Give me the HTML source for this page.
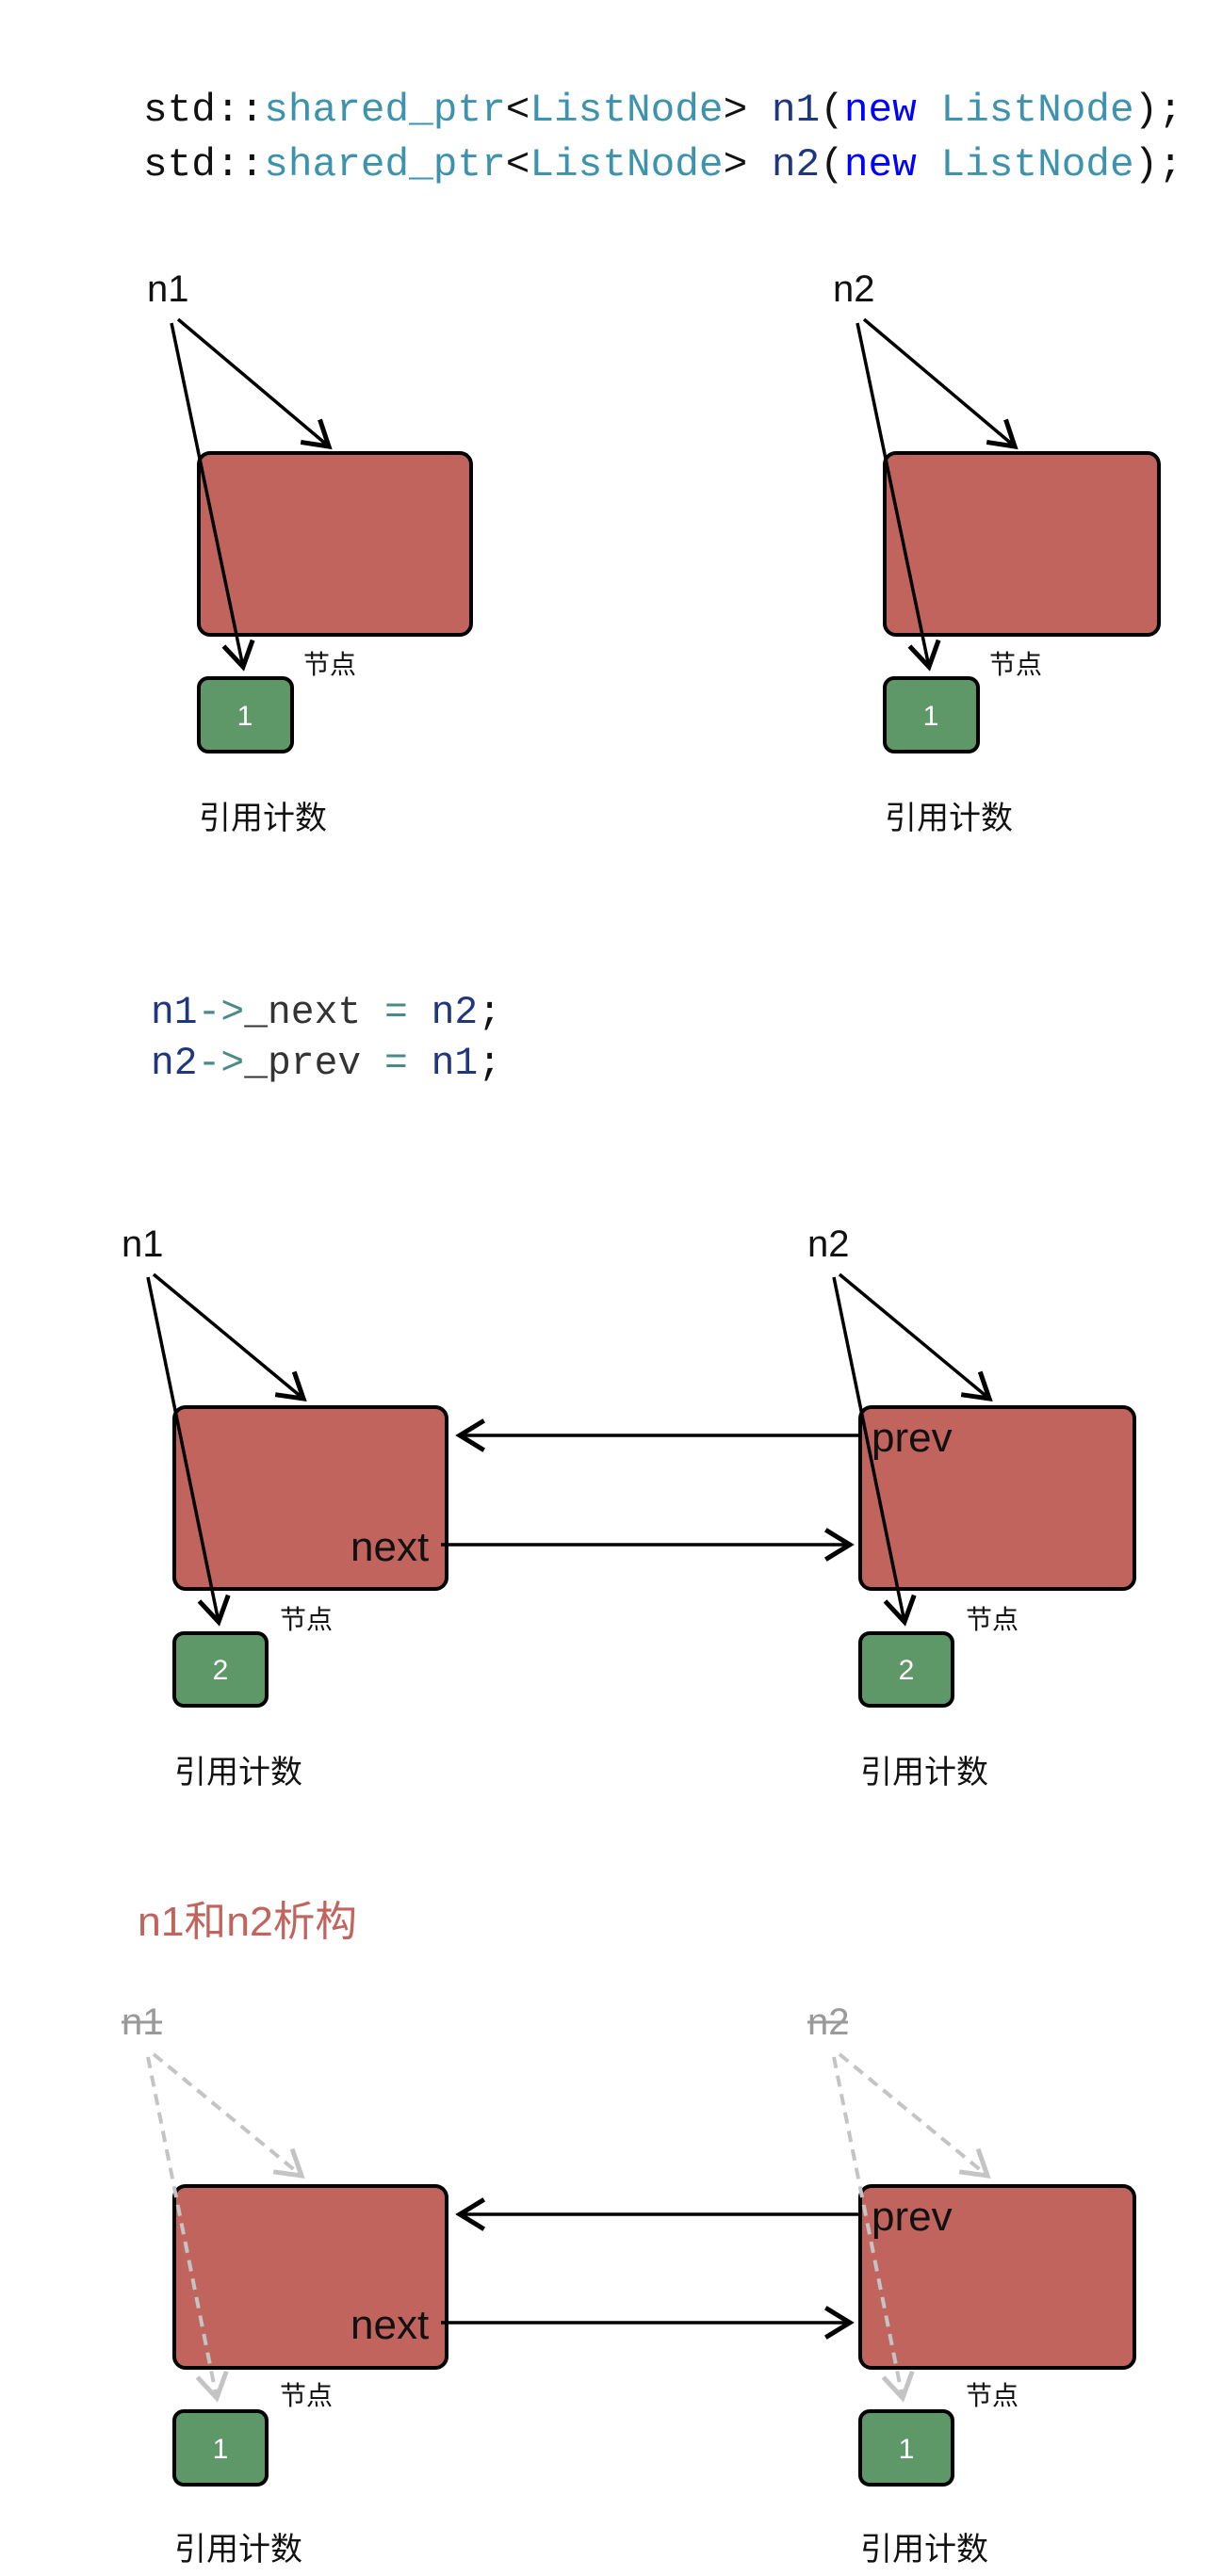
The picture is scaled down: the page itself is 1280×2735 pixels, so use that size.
<!DOCTYPE html>
<html><head><meta charset="utf-8"><style>
html,body{margin:0;padding:0;background:#fff;}
svg{display:block;}
.code{font-family:"Liberation Mono",monospace;font-size:42px;}
.lab{font-family:"Liberation Sans",sans-serif;font-size:40px;fill:#111;}
.cj{font-family:"Liberation Sans","Noto Sans CJK SC",sans-serif;fill:#111;}
.node{fill:#c1645e;stroke:#000;stroke-width:4;}
.cnt{fill:#5f9868;stroke:#000;stroke-width:4;}
.dig{font-family:"Liberation Sans",sans-serif;font-size:30px;fill:#fff;text-anchor:middle;}
.ar{stroke:#000;stroke-width:3.5;fill:none;}
.da{stroke:#c4c4c4;stroke-width:4;fill:none;stroke-dasharray:12 8;}
</style></head><body>
<svg width="1280" height="2735" viewBox="0 0 1280 2735" xmlns="http://www.w3.org/2000/svg">
<defs>
<marker id="ah" markerUnits="userSpaceOnUse" markerWidth="40" markerHeight="40" refX="0" refY="0" viewBox="-22 -14 26 28" orient="auto" overflow="visible">
<path d="M-18,-11 L0,0 L-18,11" fill="none" stroke="#000" stroke-width="3.5"/>
</marker>
<marker id="ahg" markerUnits="userSpaceOnUse" markerWidth="40" markerHeight="40" refX="0" refY="0" viewBox="-22 -14 26 28" orient="auto" overflow="visible">
<path d="M-18,-11 L0,0 L-18,11" fill="none" stroke="#c4c4c4" stroke-width="3.5"/>
</marker>
</defs>

<!-- Section 1 code -->
<text class="code" x="152" y="128" textLength="1103" lengthAdjust="spacingAndGlyphs"><tspan fill="#111">std::</tspan><tspan fill="#3d93ad">shared_ptr</tspan><tspan fill="#111">&lt;</tspan><tspan fill="#3d93ad">ListNode</tspan><tspan fill="#111">&gt; </tspan><tspan fill="#1f377f">n1</tspan><tspan fill="#111">(</tspan><tspan fill="#0000ff">new</tspan><tspan fill="#111"> </tspan><tspan fill="#3d93ad">ListNode</tspan><tspan fill="#111">);</tspan></text>
<text class="code" x="152" y="186" textLength="1103" lengthAdjust="spacingAndGlyphs"><tspan fill="#111">std::</tspan><tspan fill="#3d93ad">shared_ptr</tspan><tspan fill="#111">&lt;</tspan><tspan fill="#3d93ad">ListNode</tspan><tspan fill="#111">&gt; </tspan><tspan fill="#1f377f">n2</tspan><tspan fill="#111">(</tspan><tspan fill="#0000ff">new</tspan><tspan fill="#111"> </tspan><tspan fill="#3d93ad">ListNode</tspan><tspan fill="#111">);</tspan></text>

<!-- Section 1 diagram -->
<g>
<text class="lab" x="156" y="320">n1</text>
<rect class="node" x="211" y="481" width="289" height="193" rx="12"/>
<rect class="cnt" x="211" y="720" width="99" height="78" rx="10"/>
<text class="dig" x="260" y="770">1</text>
<text class="cj" x="322" y="715" font-size="28">节点</text>
<text class="cj" x="211" y="880" font-size="34">引用计数</text>
<line class="ar" x1="189" y1="339" x2="349" y2="474" marker-end="url(#ah)"/>
<line class="ar" x1="182" y1="343" x2="258" y2="708" marker-end="url(#ah)"/>
</g>
<g transform="translate(728,0)">
<text class="lab" x="156" y="320">n2</text>
<rect class="node" x="211" y="481" width="291" height="193" rx="12"/>
<rect class="cnt" x="211" y="720" width="99" height="78" rx="10"/>
<text class="dig" x="260" y="770">1</text>
<text class="cj" x="322" y="715" font-size="28">节点</text>
<text class="cj" x="211" y="880" font-size="34">引用计数</text>
<line class="ar" x1="189" y1="339" x2="349" y2="474" marker-end="url(#ah)"/>
<line class="ar" x1="182" y1="343" x2="258" y2="708" marker-end="url(#ah)"/>
</g>

<!-- Section 2 code -->
<text class="code" x="160" y="1086" textLength="372" lengthAdjust="spacingAndGlyphs"><tspan fill="#1f377f">n1</tspan><tspan fill="#4a8a8a">-&gt;</tspan><tspan fill="#333">_next</tspan><tspan fill="#4a8a8a"> = </tspan><tspan fill="#1f377f">n2</tspan><tspan fill="#111">;</tspan></text>
<text class="code" x="160" y="1140" textLength="372" lengthAdjust="spacingAndGlyphs"><tspan fill="#1f377f">n2</tspan><tspan fill="#4a8a8a">-&gt;</tspan><tspan fill="#333">_prev</tspan><tspan fill="#4a8a8a"> = </tspan><tspan fill="#1f377f">n1</tspan><tspan fill="#111">;</tspan></text>

<!-- Section 2 diagram -->
<g>
<text class="lab" x="129" y="1334">n1</text>
<rect class="node" x="185" y="1494" width="289" height="193" rx="12"/>
<rect class="cnt" x="185" y="1734" width="98" height="77" rx="10"/>
<text class="dig" x="234" y="1783">2</text>
<text class="cj" x="297" y="1729" font-size="28">节点</text>
<text class="cj" x="185" y="1893" font-size="34">引用计数</text>
<text class="lab" x="372" y="1657" font-size="44" style="font-size:44px">next</text>
<line class="ar" x1="163" y1="1353" x2="322" y2="1485" marker-end="url(#ah)"/>
<line class="ar" x1="157" y1="1356" x2="232" y2="1722" marker-end="url(#ah)"/>
</g>
<g transform="translate(728,0)">
<text class="lab" x="129" y="1334">n2</text>
<rect class="node" x="185" y="1494" width="291" height="193" rx="12"/>
<rect class="cnt" x="185" y="1734" width="98" height="77" rx="10"/>
<text class="dig" x="234" y="1783">2</text>
<text class="cj" x="297" y="1729" font-size="28">节点</text>
<text class="cj" x="185" y="1893" font-size="34">引用计数</text>
<text class="lab" x="197" y="1541" style="font-size:44px">prev</text>
<line class="ar" x1="163" y1="1353" x2="322" y2="1485" marker-end="url(#ah)"/>
<line class="ar" x1="157" y1="1356" x2="232" y2="1722" marker-end="url(#ah)"/>
</g>
<line class="ar" x1="915" y1="1524" x2="488" y2="1524" marker-end="url(#ah)"/>
<line class="ar" x1="468" y1="1640" x2="902" y2="1640" marker-end="url(#ah)"/>

<!-- Section 3 -->
<text x="146" y="2055" font-size="44" textLength="233" lengthAdjust="spacingAndGlyphs" style="font-family:'Liberation Sans','Noto Sans CJK SC',sans-serif;fill:#c1645e;">n1和n2析构</text>
<g>
<text class="lab" x="129" y="2160" style="fill:#9a9a9a">n1</text>
<line x1="129" y1="2147" x2="172" y2="2147" stroke="#9a9a9a" stroke-width="3"/>
<rect class="node" x="185" y="2321" width="289" height="193" rx="12"/>
<rect class="cnt" x="185" y="2560" width="98" height="78" rx="10"/>
<text class="dig" x="234" y="2610">1</text>
<text class="cj" x="297" y="2553" font-size="28">节点</text>
<text class="cj" x="185" y="2718" font-size="34">引用计数</text>
<text class="lab" x="372" y="2483" style="font-size:44px">next</text>
<line class="da" x1="163" y1="2181" x2="320" y2="2310" marker-end="url(#ahg)"/>
<line class="da" x1="157" y1="2184" x2="230" y2="2546" marker-end="url(#ahg)"/>
</g>
<g transform="translate(728,0)">
<text class="lab" x="129" y="2160" style="fill:#9a9a9a">n2</text>
<line x1="129" y1="2147" x2="172" y2="2147" stroke="#9a9a9a" stroke-width="3"/>
<rect class="node" x="185" y="2321" width="291" height="193" rx="12"/>
<rect class="cnt" x="185" y="2560" width="98" height="78" rx="10"/>
<text class="dig" x="234" y="2610">1</text>
<text class="cj" x="297" y="2553" font-size="28">节点</text>
<text class="cj" x="185" y="2718" font-size="34">引用计数</text>
<text class="lab" x="197" y="2368" style="font-size:44px">prev</text>
<line class="da" x1="163" y1="2181" x2="320" y2="2310" marker-end="url(#ahg)"/>
<line class="da" x1="157" y1="2184" x2="230" y2="2546" marker-end="url(#ahg)"/>
</g>
<line class="ar" x1="915" y1="2351" x2="488" y2="2351" marker-end="url(#ah)"/>
<line class="ar" x1="468" y1="2466" x2="902" y2="2466" marker-end="url(#ah)"/>
</svg>
</body></html>
